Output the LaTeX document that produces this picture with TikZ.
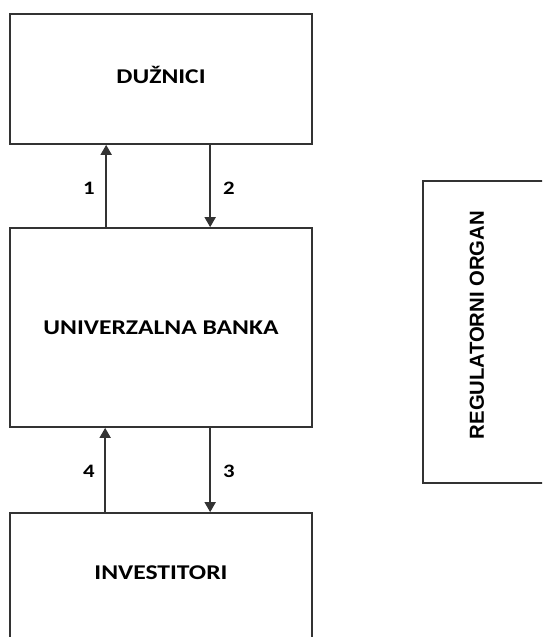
\documentclass[tikz,border=0pt]{standalone}
\usepackage{fontspec}
\setmainfont{Carlito}
\newfontfamily\arialfont{Liberation Sans}
\usetikzlibrary{arrows.meta}
\definecolor{edgegray}{HTML}{333333}
\tikzset{
  box/.style={draw=edgegray, line width=1.7pt, rectangle, inner sep=0pt,
              minimum width=302pt},
  boxtext/.style={font=\fontsize{21}{24}\selectfont\bfseries, text=black,
                  xscale=1.22, transform shape},
  numtext/.style={font=\fontsize{19}{22}\selectfont\bfseries, text=black,
                  xscale=1.2, transform shape},
  flow/.style={draw=edgegray, line width=1.7pt,
               -{Triangle[length=10pt,width=11pt]}},
}
\begin{document}
\begin{tikzpicture}[x=1pt,y=-1pt]
  \useasboundingbox (0,0) rectangle (542,637);
  \clip (0,0) rectangle (542,637);

  % left column of boxes
  \node[box, minimum height=130pt] (duz) at (161,79) {};
  \node[boxtext] (duzt) at (161,75) {DUŽNICI};
  \node[box, minimum height=199pt] (bank) at (161,327.5) {};
  \node[boxtext] (bankt) at (161,328) {UNIVERZALNA BANKA};
  \node[box, minimum height=200pt] (inv) at (161,613) {};
  \node[boxtext] (invt) at (161,573) {INVESTITORI};

  % regulator box on the right, running past the page edge
  \node[box, minimum width=200pt, minimum height=302pt] (reg) at (523,332) {};
  \node[rotate=90, font=\arialfont\fontsize{20.3}{23}\selectfont\bfseries]
    (regt) at (477,325) {REGULATORNI ORGAN};

  % flows between the boxes
  \draw[flow] ([xshift=97pt]bank.north west) -- ([xshift=97pt]duz.south west);
  \draw[flow] ([xshift=201pt]duz.south west) -- ([xshift=201pt]bank.north west);
  \draw[flow] ([xshift=201pt]bank.south west) -- ([xshift=201pt]inv.north west);
  \draw[flow] ([xshift=96pt]inv.north west) -- ([xshift=96pt]bank.south west);

  % flow numbers
  \node[numtext] (n1) at (89,188) {1};
  \node[numtext] (n2) at (229,188) {2};
  \node[numtext] (n3) at (229,471) {3};
  \node[numtext] (n4) at (89,471) {4};
\end{tikzpicture}
\end{document}
